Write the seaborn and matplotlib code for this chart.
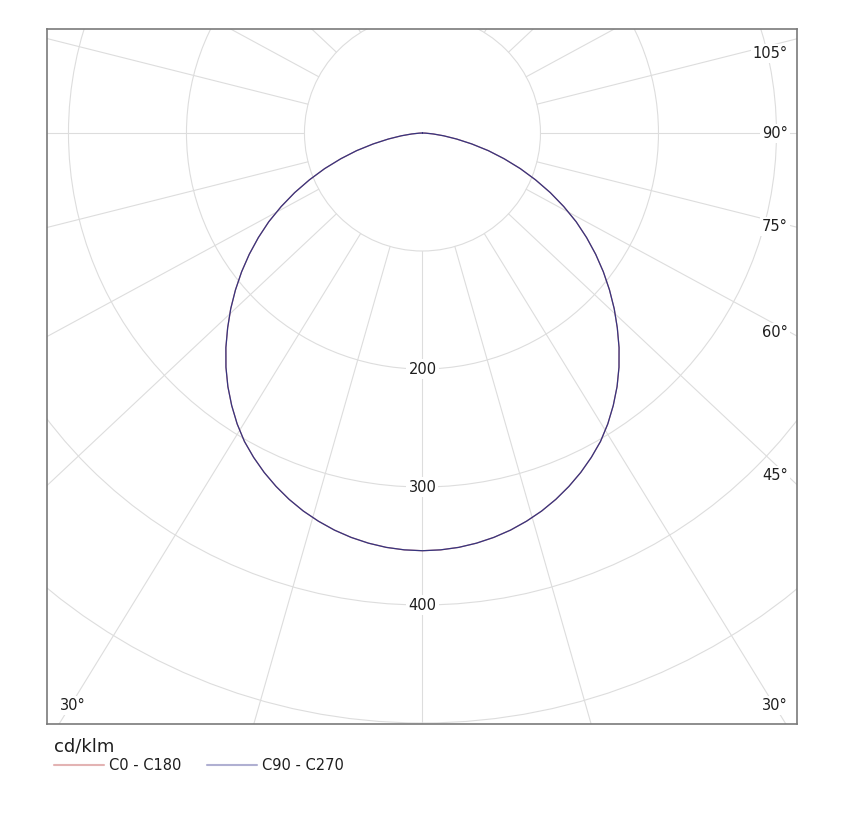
import numpy as np
import pandas as pd
import seaborn as sns
import matplotlib
from matplotlib import pyplot as plt
from matplotlib.lines import Line2D

matplotlib.use("Agg")

# luminous intensity distribution (cd/klm), gamma in degrees
gamma = [0, 2.5, 5, 7.5, 10, 12.5, 15, 17.5, 20, 22.5, 25, 27.5, 30, 32.5, 35, 37.5,
         40, 42.5, 45, 47.5, 50, 52.5, 55, 57.5, 60, 62.5, 65, 67.5, 70, 72.5, 75,
         77.5, 80, 82.5, 85, 87.5, 90]
c0_c180 = [354.0, 353.6, 352.5, 350.6, 348.0, 344.7, 340.6, 335.9, 330.4, 324.2,
           317.4, 309.9, 301.8, 292.3, 281.9, 270.9, 259.1, 246.6, 233.5, 220.4,
           206.9, 193.2, 179.2, 164.9, 150.4, 135.0, 119.5, 103.7, 88.2, 72.6,
           57.8, 42.8, 29.4, 18.1, 9.1, 2.8, 0.0]
c90_c270 = [354.0, 353.6, 352.5, 350.6, 348.0, 344.7, 340.6, 335.9, 330.4, 324.2,
            317.4, 309.9, 301.8, 292.3, 281.9, 270.9, 259.1, 246.6, 233.5, 220.4,
            206.9, 193.2, 179.2, 164.9, 150.4, 135.0, 119.5, 103.7, 88.2, 72.6,
            57.8, 42.8, 29.4, 18.1, 9.1, 2.8, 0.0]

planes = ["C0 - C180", "C90 - C270"]
rings = [100, 200, 300, 400, 500, 600]
ring_labels = [200, 300, 400]
spokes = list(range(0, 360, 15))
# spokes in the source image are drawn slightly wider than true angles
SPOKE_STRETCH = 1.065

# angle labels sit on the frame, positions in axes fraction
angle_labels = [
    ("105°", 0.988, 0.965, "right"),
    ("90°", 0.988, 0.850, "right"),
    ("75°", 0.988, 0.7165, "right"),
    ("60°", 0.988, 0.5626, "right"),
    ("45°", 0.988, 0.358, "right"),
    ("30°", 0.988, 0.027, "right"),
    ("30°", 0.017, 0.027, "left"),
]

GRID = "#dddddd"
TEXT = "#1e1e1e"


def build_frame():
    rows = []
    for name, vals in zip(planes, [c0_c180, c90_c270]):
        # one half on each side of nadir: -90 .. 0 .. 90
        g = [-a for a in gamma[::-1]] + gamma[1:]
        v = vals[::-1] + vals[1:]
        for a, i in zip(g, v):
            t = np.radians(a)
            rows.append({"plane": name, "x": i * np.sin(t), "y": -i * np.cos(t)})
    return pd.DataFrame(rows)


def main():
    sns.set_style("white")
    plt.rcParams["font.family"] = ["DejaVu Sans"]

    fig = plt.figure(figsize=(8.43, 8.13), dpi=100)
    ax = fig.add_axes([47 / 843, 1 - 724 / 813, 750 / 843, 695 / 813])

    # polar grid drawn on cartesian axes so the frame can clip it to a box
    for r in rings:
        ax.add_patch(plt.Circle((0, 0), r, fill=False, color=GRID, lw=0.8, zorder=1))
    for a in spokes:
        t = np.radians(a)
        dx, dy = SPOKE_STRETCH * np.sin(t), -np.cos(t)
        n = np.hypot(dx, dy)
        dx, dy = dx / n, dy / n
        ax.plot([100 * dx, 900 * dx], [100 * dy, 900 * dy], color=GRID, lw=0.8, zorder=1)

    df = build_frame()
    sns.lineplot(
        data=df, x="x", y="y", hue="plane", hue_order=planes,
        palette={"C0 - C180": "#d98c8c", "C90 - C270": "#35357f"},
        sort=False, estimator=None, legend=False, linewidth=0.9, ax=ax, zorder=3,
    )

    for v in ring_labels:
        ax.text(0, -v, str(v), ha="center", va="center", fontsize=10.5, color=TEXT,
                bbox=dict(fc="white", ec="none", pad=1.5), zorder=4)
    for txt, x, y, ha in angle_labels:
        ax.text(x, y, txt, ha=ha, va="center", fontsize=10.5, color=TEXT,
                transform=ax.transAxes,
                bbox=dict(fc="white", ec="none", pad=1.5), zorder=4)

    ax.set_xlim(-318.2, 317.4)
    ax.set_ylim(-500.8, 88.1)
    ax.set_aspect("equal")
    ax.set_xticks([])
    ax.set_yticks([])
    ax.set_xlabel("")
    ax.set_ylabel("")
    for s in ax.spines.values():
        s.set_color("#7a7a7a")
        s.set_linewidth(1.2)

    handles = [
        Line2D([], [], color="#e3b3b3", lw=1.5),
        Line2D([], [], color="#b0b0d2", lw=1.5),
    ]
    leg = ax.legend(
        handles, planes, title="cd/klm", loc="upper left",
        bbox_to_anchor=(54 / 843, 1 - 737 / 813), bbox_transform=fig.transFigure,
        ncol=2, frameon=False, alignment="left", fontsize=10.5, title_fontsize=13,
        handlelength=3.4, handletextpad=0.35, columnspacing=1.8,
        borderpad=0, borderaxespad=0, labelspacing=0.2,
    )
    for t in leg.get_texts():
        t.set_color(TEXT)
    leg.get_title().set_color(TEXT)

    fig.savefig("out.png", dpi=100)


if __name__ == "__main__":
    main()
